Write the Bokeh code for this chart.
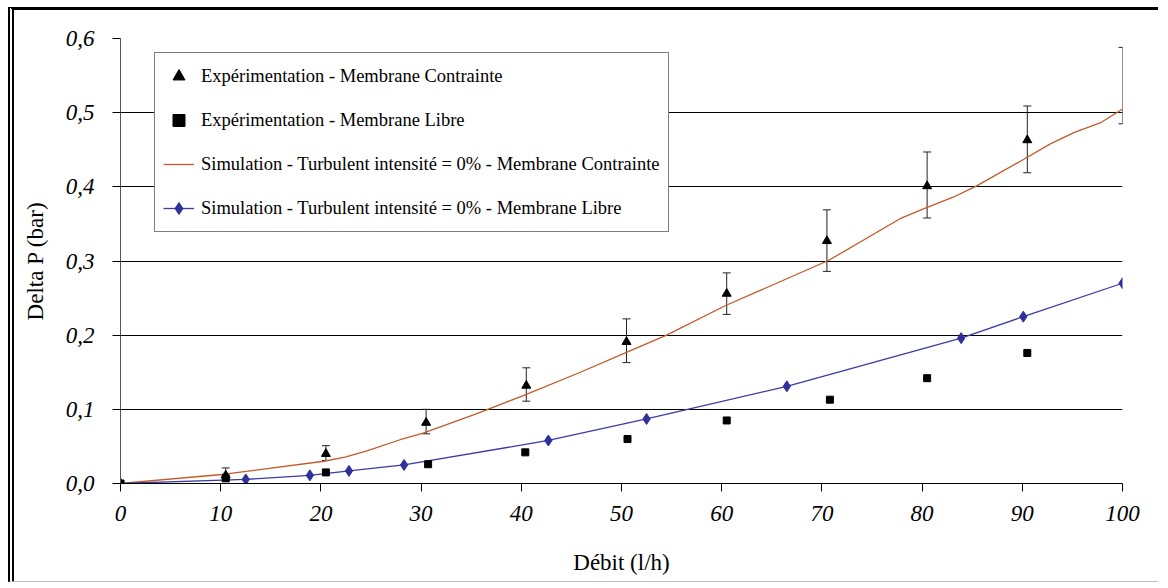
from bokeh.plotting import figure
from bokeh.models import (Legend, LegendItem, Whisker, TeeHead, ColumnDataSource,
                          CustomJSTickFormatter, FixedTicker, Range1d)
from bokeh.embed import file_html
from bokeh.resources import INLINE

# ---- data ----
x_ticks = [0, 10, 20, 30, 40, 50, 60, 70, 80, 90, 100]
y_ticks = [0.0, 0.1, 0.2, 0.3, 0.4, 0.5, 0.6]

x_exp_c = [10.5, 20.5, 30.5, 40.5, 50.5, 60.5, 70.5, 80.5, 90.5]
dp_exp_c = [0.011, 0.040, 0.082, 0.132, 0.191, 0.256, 0.327, 0.401, 0.463]

err_x = [10.5, 20.5, 30.5, 40.5, 50.5, 60.5, 70.5, 80.5, 90.5, 100.0]
err_upper = [0.021, 0.051, 0.100, 0.156, 0.222, 0.284, 0.369, 0.447, 0.509, 0.588]
err_lower = [0.003, 0.031, 0.067, 0.111, 0.163, 0.228, 0.286, 0.358, 0.419, 0.485]

x_exp_l = [0, 10.5, 20.5, 30.7, 40.4, 50.6, 60.5, 70.8, 80.5, 90.5]
dp_exp_l = [0.0, 0.007, 0.015, 0.026, 0.042, 0.060, 0.085, 0.113, 0.142, 0.176]

x_sim_c = [0, 10.4, 20.3, 22.4, 24.6, 27.9, 30.2, 35.5, 40.2, 45.9, 50.2, 54.5,
           60.4, 70.7, 77.8, 80.2, 83.1, 85.4, 90.2, 92.8, 95.2, 97.9, 100]
dp_sim_c = [0.0, 0.0125, 0.030, 0.0355, 0.044, 0.059, 0.068, 0.094, 0.1186, 0.150,
            0.175, 0.200, 0.240, 0.301, 0.357, 0.3705, 0.386, 0.401, 0.4376, 0.458,
            0.4735, 0.487, 0.505]

x_sim_l = [0, 12.5, 18.9, 22.8, 28.3, 42.7, 52.5, 66.5, 83.9, 90.1, 100]
dp_sim_l = [0.0, 0.0055, 0.011, 0.017, 0.025, 0.058, 0.087, 0.131, 0.196, 0.225, 0.270]

labels = [
    "Expérimentation - Membrane Contrainte",
    "Expérimentation - Membrane Libre",
    "Simulation - Turbulent intensité = 0% - Membrane Contrainte",
    "Simulation - Turbulent intensité = 0% - Membrane Libre",
]

FONT = "'Liberation Serif', 'Times New Roman', serif"
ORANGE = "#C45A28"
BLUE = "#3A3AA8"

p = figure(width=1150, height=575, x_range=Range1d(0, 100), y_range=Range1d(0, 0.6),
           output_backend="svg", toolbar_location=None,
           min_border_left=106, min_border_right=42, min_border_top=28, min_border_bottom=102)
p.styles = {"margin-left": "8px", "margin-top": "7px",
            "border-top": "3px solid black", "border-left": "6px double black",
            "border-bottom": "1px solid #c0c0c0"}
p.outline_line_color = None
p.background_fill_color = "white"

# grid
p.xgrid.grid_line_color = None
p.ygrid.grid_line_color = "black"
p.ygrid.grid_line_width = 1

# axes
p.xaxis.ticker = FixedTicker(ticks=x_ticks)
p.yaxis.ticker = FixedTicker(ticks=y_ticks)
p.yaxis.formatter = CustomJSTickFormatter(code="return tick.toFixed(1).replace('.', ',');")
for ax in (p.xaxis[0], p.yaxis[0]):
    ax.major_tick_out = 8
    ax.major_tick_in = 0
    ax.minor_tick_line_color = None
    ax.axis_line_color = "black"
    ax.major_tick_line_color = "black"
    ax.major_label_text_font = FONT
    ax.major_label_text_font_style = "italic"
    ax.major_label_text_font_size = "23px"
    ax.major_label_text_color = "black"
    ax.axis_label_text_font = FONT
    ax.axis_label_text_font_style = "normal"
    ax.axis_label_text_font_size = "23px"
    ax.axis_label_text_color = "black"
p.yaxis.axis_line_color = "#555555"
p.xaxis.axis_label = "Débit (l/h)"
p.yaxis.axis_label = "Delta P (bar)"
p.xaxis.major_label_standoff = 14
p.yaxis.major_label_standoff = 18
p.xaxis.axis_label_standoff = 26
p.yaxis.axis_label_standoff = 15

# error bars
err_src = ColumnDataSource(dict(x=err_x, upper=err_upper, lower=err_lower))
wh = Whisker(source=err_src, base="x", upper="upper", lower="lower",
             line_color="#222222", line_width=1,
             upper_head=TeeHead(size=8, line_color="#222222", line_width=1),
             lower_head=TeeHead(size=8, line_color="#222222", line_width=1))
p.add_layout(wh)

# simulation lines
r_sim_c = p.line(x_sim_c, dp_sim_c, line_color=ORANGE, line_width=1.3)
r_sim_l_line = p.line(x_sim_l, dp_sim_l, line_color=BLUE, line_width=1.3)
r_sim_l_pts = p.scatter(x_sim_l, dp_sim_l, marker="diamond", size=11,
                        fill_color="#30309A", line_color="#30309A")

# experimental points
r_exp_c = p.scatter(x_exp_c, dp_exp_c, marker="triangle", size=9,
                    fill_color="black", line_color="black")
r_exp_l = p.scatter(x_exp_l, dp_exp_l, marker="square", size=7,
                    fill_color="black", line_color="black")

legend = Legend(items=[
    LegendItem(label=labels[0], renderers=[r_exp_c]),
    LegendItem(label=labels[1], renderers=[r_exp_l]),
    LegendItem(label=labels[2], renderers=[r_sim_c]),
    LegendItem(label=labels[3], renderers=[r_sim_l_line, r_sim_l_pts]),
], location=(34, 251))
legend.border_line_color = "black"
legend.border_line_width = 1
legend.background_fill_color = "white"
legend.background_fill_alpha = 1
legend.label_text_font = FONT
legend.label_text_font_size = "18.5px"
legend.label_text_color = "black"
legend.padding = 8
legend.spacing = 14
legend.label_height = 30
legend.glyph_height = 30
legend.glyph_width = 31
legend.label_standoff = 7
legend.margin = 0
p.add_layout(legend)

open("out.html", "w").write(file_html(p, INLINE))
